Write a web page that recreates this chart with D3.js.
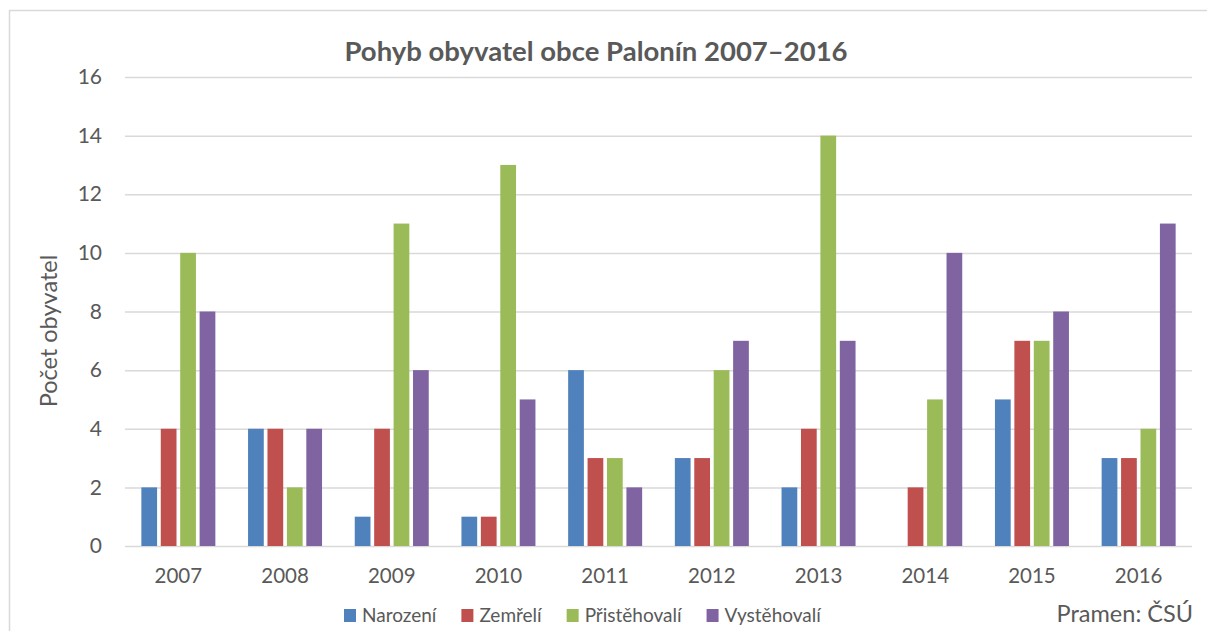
<!DOCTYPE html>
<html>
<head>
<meta charset="utf-8">
<script src="https://cdn.jsdelivr.net/npm/d3@7"></script>
<style>
  html, body { margin: 0; padding: 0; background: #fff; }
  svg { display: block; }
  text { font-family: Lato, "Open Sans", sans-serif; fill: #595959; }
</style>
</head>
<body>
<svg id="chart" width="1207" height="631"></svg>
<script>
const title = "Pohyb obyvatel obce Palonín 2007–2016";
const yAxisTitle = "Počet obyvatel";
const source = "Pramen: ČSÚ";
const years = ["2007","2008","2009","2010","2011","2012","2013","2014","2015","2016"];
const seriesNames = ["Narození","Zemřelí","Přistěhovalí","Vystěhovalí"];
const seriesColors = ["#4F81BD","#C0504D","#9BBB59","#8064A2"];
const narozeni     = [2, 4, 1, 1, 6, 3, 2, 0, 5, 3];
const zemreli      = [4, 4, 4, 1, 3, 3, 4, 2, 7, 3];
const pristehovali = [10, 2, 11, 13, 3, 6, 14, 5, 7, 4];
const vystehovali  = [8, 4, 6, 5, 2, 7, 7, 10, 8, 11];
const yTicks = [0, 2, 4, 6, 8, 10, 12, 14, 16];

const seriesValues = [narozeni, zemreli, pristehovali, vystehovali];
const data = years.map((y, i) => ({
  year: y,
  values: seriesNames.map((s, j) => ({ key: s, value: seriesValues[j][i], color: seriesColors[j] }))
}));

const svg = d3.select("#chart");
const plot = { left: 125, right: 1192, top: 77, bottom: 546 };

// Outer frame (left and top edges visible)
svg.append("path")
  .attr("d", `M9.5,631 L9.5,10.5 L1207,10.5`)
  .attr("fill", "none").attr("stroke", "#D9D9D9").attr("stroke-width", 1.5);

const x0 = d3.scaleBand().domain(years).range([plot.left, plot.right]).padding(0);
const groupW = 74;
const x1 = d3.scaleBand().domain(seriesNames)
  .range([0, groupW]).paddingInner(0.19).paddingOuter(0);
const y = d3.scaleLinear().domain([0, 16]).range([plot.bottom, plot.top]);

// Gridlines
const yAxis = d3.axisLeft(y).tickValues(yTicks).tickSize(-(plot.right - plot.left)).tickPadding(23);
const gy = svg.append("g").attr("transform", `translate(${plot.left},0)`).call(yAxis);
gy.select(".domain").remove();
gy.selectAll(".tick line").attr("stroke", "#D9D9D9").attr("stroke-width", 1.5);
gy.selectAll(".tick text").attr("font-size", 21).attr("fill", "#595959")
  .style("font-family", "Lato, 'Open Sans', sans-serif");

// Bars
const groups = svg.append("g").selectAll("g").data(data).join("g")
  .attr("transform", d => `translate(${x0(d.year) + (x0.bandwidth() - groupW) / 2},0)`);
groups.selectAll("rect").data(d => d.values).join("rect")
  .attr("x", d => x1(d.key))
  .attr("width", x1.bandwidth())
  .attr("y", d => y(d.value))
  .attr("height", d => y(0) - y(d.value))
  .attr("fill", d => d.color);

// X axis labels
const xAxis = d3.axisBottom(x0).tickSize(0).tickPadding(22);
const gx = svg.append("g").attr("transform", `translate(0,${plot.bottom})`).call(xAxis);
gx.select(".domain").remove();
gx.selectAll(".tick text").attr("font-size", 20.5).attr("fill", "#595959")
  .style("font-family", "Lato, 'Open Sans', sans-serif");

// Title
svg.append("text").attr("x", 596).attr("y", 61).attr("text-anchor", "middle")
  .attr("font-size", 27.5).attr("font-weight", "bold").text(title);

// Y axis title
svg.append("text").attr("transform", `translate(57,331) rotate(-90)`)
  .attr("text-anchor", "middle").attr("font-size", 23.5).text(yAxisTitle);

// Legend
const legend = svg.append("g");
let lx = 344;
seriesNames.forEach((s, i) => {
  legend.append("rect").attr("x", lx).attr("y", 609).attr("width", 12).attr("height", 13)
    .attr("fill", seriesColors[i]);
  const t = legend.append("text").attr("x", lx + 18).attr("y", 622).attr("font-size", 19).text(s);
  lx += 18 + t.node().getComputedTextLength() + 25;
});

// Source
svg.append("text").attr("x", 1193).attr("y", 622).attr("text-anchor", "end")
  .attr("font-size", 23.5).text(source);
</script>
</body>
</html>
